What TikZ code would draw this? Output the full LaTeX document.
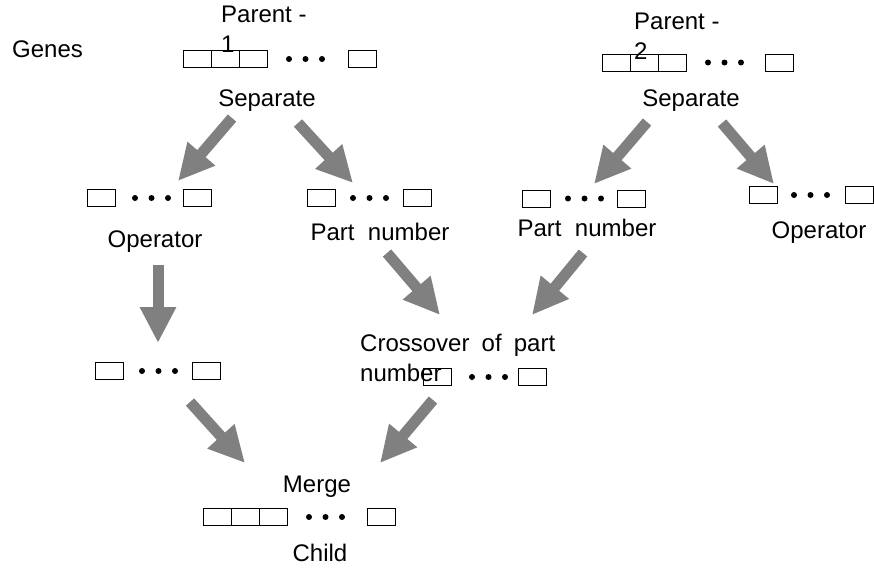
\documentclass[tikz,border=0pt]{standalone}
\usepackage{fontspec}
\setmainfont{Liberation Sans}
\usetikzlibrary{arrows.meta}

% one row of genes: cells at the front, three dots, one cell at the end
% #1 name, #2 left edge, #3 centre y, #4 number of front cells, #5 first dot x, #6 left edge of last cell
\newcommand{\generow}[6]{%
  \foreach \k in {1,...,#4}
    \node[cell, anchor=west] (#1c\k) at ({#2+28*(\k-1)},#3) {};
  \foreach \d in {0,1,2}
    \fill ({#5+16.5*\d},#3) circle (3pt);
  \node[cell, anchor=west] (#1e) at (#6,#3) {};
}

\begin{document}
\begin{tikzpicture}[
    x=1pt, y=-1pt,
    lab/.style={font=\fontsize{24}{30}\selectfont, inner sep=0pt},
    cell/.style={draw, line width=1pt, minimum width=28pt, minimum height=17pt, inner sep=0pt},
    fat/.style={draw=gray, line width=11pt, -{Triangle[length=36pt, width=34pt]}},
]
\useasboundingbox (0,0) rectangle (874,571);

% ---- Labels ----
\node[lab, anchor=base west] (genes) at (12,57) {Genes};
\node[lab, anchor=north west, align=left] (par1) at (221,6) {Parent -\\1};
\node[lab, anchor=north west, align=left] (par2) at (634,13) {Parent -\\2};
\node[lab, anchor=base] (sep1) at (267,106) {Separate};
\node[lab, anchor=base] (sep2) at (691,106) {Separate};
\node[lab, anchor=base] (opA) at (155,247) {Operator};
\node[lab, anchor=base] (pnA) at (380,240) {Part\ \ number};
\node[lab, anchor=base] (pnB) at (587,236) {Part\ \ number};
\node[lab, anchor=base] (opB) at (819,238) {Operator};
\node[lab, anchor=north west, align=left, text width=195pt] (cross) at (360,334)
    {Crossover\hfill of\hfill part\\number};
\node[lab, anchor=base] (merge) at (317,492) {Merge};
\node[lab, anchor=base] (child) at (320,561) {Child};

% ---- Gene rows ----
\generow{rp1}{183}{59}{3}{289}{348}
\generow{rp2}{602}{62.5}{3}{708}{765}
\generow{rop1}{87}{198}{1}{135}{183}
\generow{rpn1}{307}{198}{1}{353}{403}
\generow{rpn2}{522}{198.5}{1}{568}{617}
\generow{rop2}{749}{195}{1}{794}{845}
\generow{rlow}{95}{371}{1}{142}{192}
\generow{rcross}{423}{377}{1}{472}{518}
\generow{rchild}{203}{517}{3}{309}{367}

% ---- Arrow ends ----
\coordinate (s1l) at (232,118);  \coordinate (t1l) at (178,181);
\coordinate (s1r) at (298,123);  \coordinate (t1r) at (353,183);
\coordinate (s2l) at (647,122);  \coordinate (t2l) at (594,184);
\coordinate (s2r) at (722,123);  \coordinate (t2r) at (774,184);
\coordinate (sop) at (158,265);  \coordinate (top) at (158,343);
\coordinate (spA) at (387,253);  \coordinate (tpA) at (440,315);
\coordinate (spB) at (583,253);  \coordinate (tpB) at (532,315);
\coordinate (slw) at (190,402);  \coordinate (tlw) at (245,463);
\coordinate (scr) at (433,400);  \coordinate (tcr) at (380,463);

% ---- Arrows ----
\draw[fat] (s1l) -- (t1l);
\draw[fat] (s1r) -- (t1r);
\draw[fat] (s2l) -- (t2l);
\draw[fat] (s2r) -- (t2r);
\draw[fat] (sop) -- (top);
\draw[fat] (spA) -- (tpA);
\draw[fat] (spB) -- (tpB);
\draw[fat] (slw) -- (tlw);
\draw[fat] (scr) -- (tcr);

\end{tikzpicture}
\end{document}
